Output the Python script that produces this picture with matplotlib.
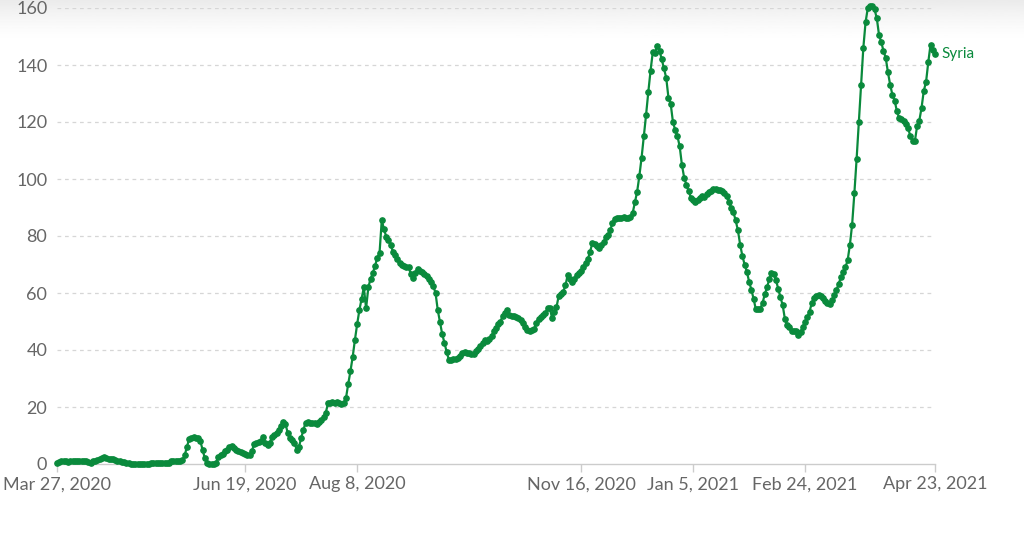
import numpy as np
import pandas as pd
import matplotlib
matplotlib.use("Agg")
import matplotlib.pyplot as plt
import matplotlib.dates as mdates

# daily values, Mar 27 2020 .. Apr 23 2021
start_date = "2020-03-27"
values = [
    0.3, 0.6, 1.0, 1.1, 0.9, 0.6, 1.2, 1.2, 1.2, 1.2,
    1.2, 1.2, 1.2, 1.1, 0.6, 0.4, 1.0, 1.0, 1.3, 1.6,
    2.0, 2.4, 2.2, 1.8, 1.8, 1.6, 1.5, 1.2, 1.0, 0.8,
    0.6, 0.4, 0.2, 0.1, 0.0, 0.0, 0.0, 0.0, 0.0, 0.0,
    0.0, 0.1, 0.3, 0.4, 0.4, 0.4, 0.5, 0.5, 0.5, 0.5,
    0.5, 1.0, 1.1, 1.1, 1.1, 1.2, 1.3, 3.0, 6.0, 8.8,
    9.2, 9.3, 9.2, 9.0, 8.0, 5.0, 2.0, 0.2, 0.0, 0.0,
    0.1, 0.5, 2.5, 3.0, 3.5, 4.5, 5.0, 5.8, 6.2, 5.5,
    5.0, 4.5, 4.2, 3.8, 3.5, 3.3, 3.2, 4.5, 7.0, 7.5,
    7.6, 8.0, 9.3, 7.5, 6.8, 7.5, 9.5, 10.2, 11.0, 12.0,
    13.5, 14.6, 14.0, 11.0, 9.0, 8.4, 7.5, 5.0, 6.0, 9.0,
    12.0, 14.5, 14.6, 14.5, 14.4, 14.3, 14.2, 14.8, 15.4, 16.5,
    18.0, 21.3, 21.5, 21.6, 21.5, 21.8, 21.5, 21.0, 21.5, 23.0,
    28.0, 32.5, 37.5, 43.5, 49.0, 54.0, 58.0, 62.0, 54.6, 62.0,
    65.0, 67.0, 69.5, 72.4, 74.0, 85.6, 82.3, 79.8, 78.6, 76.8,
    74.5, 73.3, 71.8, 70.5, 69.7, 69.3, 69.1, 69.0, 66.6, 65.2,
    67.0, 68.3, 67.8, 67.2, 66.5, 65.8, 64.8, 63.8, 62.5, 60.0,
    54.0, 49.7, 45.5, 42.5, 39.2, 36.5, 36.6, 36.7, 36.9, 37.3,
    38.0, 39.0, 39.2, 39.0, 38.8, 38.6, 38.5, 39.5, 40.5, 41.5,
    42.5, 43.5, 43.0, 44.0, 45.0, 46.5, 47.8, 49.0, 50.0, 52.0,
    53.0, 54.1, 52.4, 52.0, 51.8, 51.5, 51.1, 50.5, 49.5, 48.0,
    47.0, 46.8, 47.0, 47.2, 49.5, 51.0, 51.5, 52.2, 53.0, 54.6,
    54.6, 51.4, 53.5, 55.0, 59.0, 59.8, 60.4, 62.7, 66.2, 65.0,
    63.9, 65.0, 66.2, 67.0, 67.8, 69.2, 70.5, 71.8, 74.5, 77.4,
    77.1, 76.5, 75.8, 76.8, 77.8, 79.5, 80.5, 82.0, 84.7, 86.0,
    86.4, 86.2, 86.4, 86.6, 86.2, 86.4, 86.6, 88.0, 91.8, 95.5,
    101.0, 107.5, 115.0, 122.5, 130.5, 138.0, 144.5, 144.3, 146.8, 145.0,
    142.0, 138.8, 135.5, 128.5, 126.3, 120.0, 117.2, 115.0, 111.5, 105.0,
    100.5, 98.0, 95.8, 93.5, 92.5, 92.1, 92.8, 93.5, 94.2, 93.6,
    94.8, 95.4, 95.9, 96.4, 96.5, 96.3, 96.1, 95.9, 95.0, 93.9,
    91.8, 89.8, 88.3, 85.5, 82.0, 77.0, 73.0, 70.0, 67.5, 64.0,
    61.2, 58.0, 54.3, 54.3, 54.5, 56.5, 59.5, 62.0, 64.8, 67.1,
    66.8, 64.5, 61.5, 58.5, 55.7, 50.8, 48.7, 48.0, 46.8, 46.5,
    46.5, 45.2, 46.3, 48.2, 50.0, 51.5, 53.5, 56.5, 58.3, 59.1,
    59.2, 59.0, 58.3, 57.2, 56.5, 56.3, 57.5, 59.2, 61.0, 63.2,
    65.5, 67.2, 69.0, 71.5, 76.9, 84.0, 95.0, 107.0, 120.0, 133.0,
    146.0, 155.0, 160.0, 160.6, 160.8, 159.5, 156.5, 150.6, 148.0, 145.0,
    142.5, 137.4, 133.0, 129.5, 127.5, 123.7, 121.4, 121.0, 120.2, 119.4,
    117.8, 115.0, 113.2, 113.2, 118.5, 120.5, 125.0, 131.0, 134.0, 141.0,
    147.1, 145.4, 143.8,
]
country = "Syria"

tick_dates = ["2020-03-27", "2020-06-19", "2020-08-08", "2020-11-16",
              "2021-01-05", "2021-02-24", "2021-04-23"]
tick_labels = ["Mar 27, 2020", "Jun 19, 2020", "Aug 8, 2020", "Nov 16, 2020",
               "Jan 5, 2021", "Feb 24, 2021", "Apr 23, 2021"]
y_ticks = [0, 20, 40, 60, 80, 100, 120, 140, 160]

dates = pd.date_range(start_date, periods=len(values), freq="D")

green = "#0a8a3c"
grey_text = "#666666"
font = ["Lato", "DejaVu Sans"]

fig = plt.figure(figsize=(10.24, 5.35), dpi=100)

# soft shadow along the top edge of the screenshot
shade = fig.add_axes([0, 0.92, 1, 0.08], zorder=-5)
grad = np.linspace(1, 0, 50).reshape(-1, 1) ** 1.5
shade.imshow(1 - 0.08 * grad, cmap="gray", vmin=0, vmax=1, aspect="auto",
             extent=[0, 1, 0, 1])
shade.axis("off")

ax = fig.add_axes([57 / 1024, 1 - 464 / 535, 878 / 1024, 456 / 535])
ax.patch.set_alpha(0)

ax.plot(dates, values, color=green, lw=1.6, marker="o", markersize=3.8,
        clip_on=False, zorder=3)

ax.set_xlim(dates[0], dates[-1])
ax.set_ylim(0, 160)

ax.set_yticks(y_ticks)
ax.set_yticklabels([str(v) for v in y_ticks], family=font, fontsize=13,
                   color=grey_text)
ax.tick_params(axis="y", length=0, pad=7)
for v in y_ticks[1:]:
    ax.axhline(v, color="#d6d6d6", lw=0.9, ls=(0, (3, 3)), zorder=1)

ticks = pd.to_datetime(tick_dates)
ax.set_xticks(ticks)
ax.set_xticklabels(tick_labels, family=font, fontsize=13, color=grey_text)
ax.tick_params(axis="x", length=6, width=1, color="#cccccc", pad=3)

for side in ["top", "right", "left"]:
    ax.spines[side].set_visible(False)
ax.spines["bottom"].set_color("#cccccc")
ax.spines["bottom"].set_linewidth(1)

ax.annotate(country, xy=(dates[-1], values[-1]), xytext=(5, 0),
            textcoords="offset points", color=green, family=font,
            fontsize=11, va="center", ha="left")

fig.savefig("out.png", dpi=100)
